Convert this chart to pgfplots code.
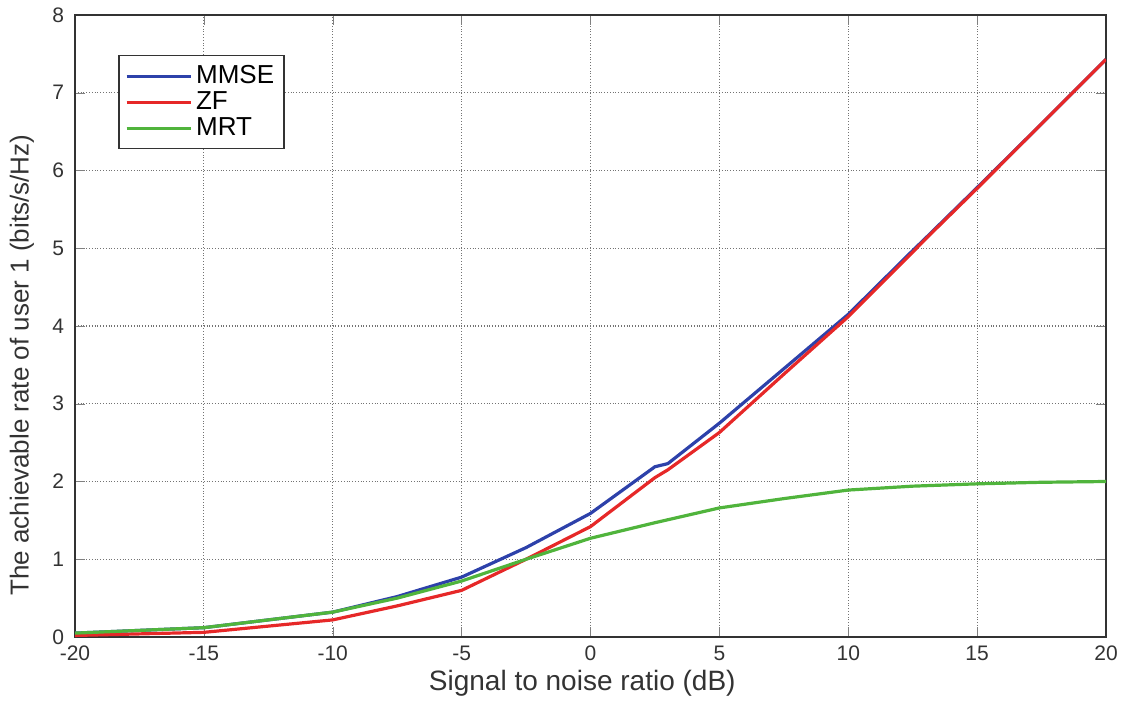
\documentclass[border=0pt]{standalone}
\usepackage{pgfplots}
\pgfplotsset{compat=1.18}
\usepackage{fontspec}
\setmainfont{Liberation Sans}
\definecolor{cblue}{RGB}{45,65,170}
\definecolor{cred}{RGB}{230,40,40}
\definecolor{cgreen}{RGB}{80,180,60}
\begin{document}
\begin{tikzpicture}
\begin{axis}[
  scale only axis,
  width=515.5pt, height=311pt,
  xmin=-20, xmax=20, ymin=0, ymax=8,
  xtick={-20,-15,...,20}, ytick={0,1,...,8},
  grid=major,
  major grid style={black!55, densely dotted, line width=0.6pt},
  tick align=inside,
  axis line style={black!80, line width=0.9pt},
  major tick length=5pt,
  /pgf/number format/assume math mode=true,
  tick label style={font=\fontsize{10.5}{12}\selectfont, text=black!80},
  yticklabel style={xshift=-2pt},
  xticklabel style={yshift=-1pt},
  xlabel={Signal to noise ratio (dB)},
  ylabel={The achievable rate of user 1 (bits/s/Hz)},
  xlabel style={font=\fontsize{14}{16}\selectfont, text=black!80,
    at={(axis description cs:0.492,0)}, anchor=center, yshift=-23pt},
  ylabel style={font=\fontsize{13}{15}\selectfont, text=black!80,
    at={(axis description cs:-0.0514,0.437)}, anchor=center},
  legend style={at={(0.042,0.936)}, anchor=north west, draw=black!80, line width=0.8pt,
    font=\fontsize{13}{13}\selectfont, inner sep=3pt, row sep=-1.5pt},
  legend cell align=left,
  legend image code/.code={\draw[#1, line width=1.5pt] (0pt,0pt) -- (32pt,0pt);},
]
\addplot[cblue, line width=1.6pt] coordinates {
(-20,0.05) (-15,0.12) (-10,0.32) (-7.5,0.52) (-5,0.77) (-2.5,1.15) (0,1.59) (2.5,2.19) (3,2.23) (5,2.75) (7.5,3.45) (10,4.15) (12.5,4.97) (13,5.13) (15,5.78) (17.5,6.6) (20,7.43)
};
\addlegendentry{MMSE}
\addplot[cred, line width=1.6pt] coordinates {
(-20,0.02) (-15,0.06) (-10,0.22) (-7.5,0.4) (-5,0.6) (-2.5,1.0) (0,1.42) (2.5,2.05) (3,2.15) (5,2.63) (7.5,3.38) (10,4.12) (12.5,4.95) (13,5.12) (15,5.77) (17.5,6.6) (20,7.43)
};
\addlegendentry{ZF}
\addplot[cgreen, line width=1.6pt] coordinates {
(-20,0.05) (-15,0.12) (-10,0.32) (-7.5,0.5) (-5,0.72) (-2.5,1.0) (0,1.27) (2.5,1.47) (5,1.66) (7.5,1.78) (10,1.89) (12.5,1.94) (15,1.97) (17.5,1.99) (20,2.0)
};
\addlegendentry{MRT}
\coordinate (sw) at (rel axis cs:0,0);
\coordinate (ne) at (rel axis cs:1,1);
\end{axis}
\pgfresetboundingbox
\useasboundingbox ([xshift=-37.5pt,yshift=-31.5pt]sw) rectangle ([xshift=7.5pt,yshift=7.5pt]ne);
\end{tikzpicture}
\end{document}
